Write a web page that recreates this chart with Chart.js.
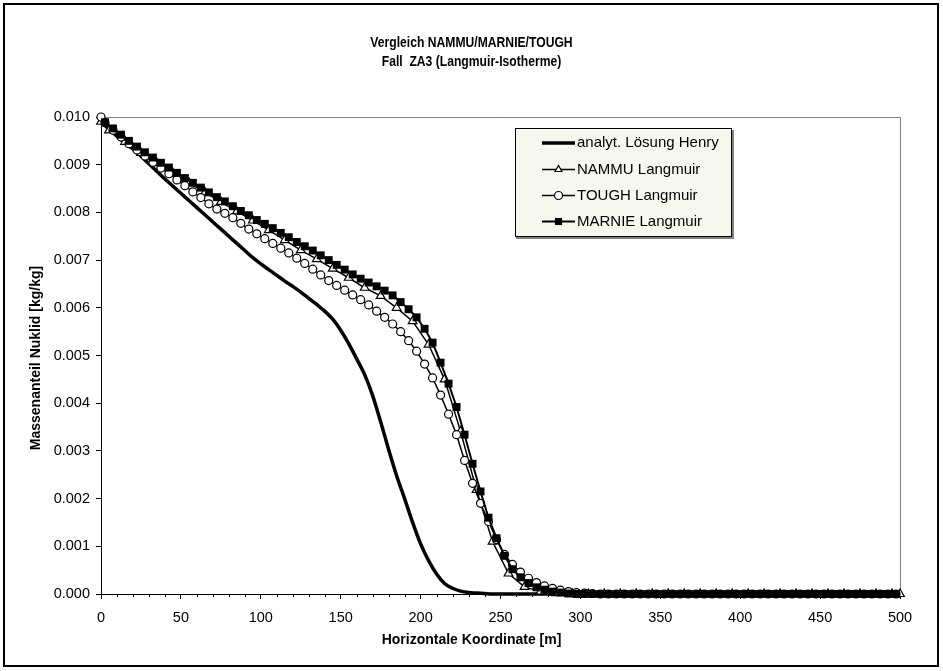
<!DOCTYPE html>
<html><head><meta charset="utf-8">
<script src="https://cdn.jsdelivr.net/npm/chart.js@4/dist/chart.umd.min.js"></script>
<style>html,body{margin:0;padding:0;background:#fff}#wrap{width:943px;height:671px;position:relative}</style>
</head><body><div id="wrap"><canvas id="c" width="943" height="671"></canvas></div>
<script>
const titleLines = ["Vergleich NAMMU/MARNIE/TOUGH", "Fall  ZA3 (Langmuir-Isotherme)"];
const xAxisTitle = "Horizontale Koordinate [m]";
const yAxisTitle = "Massenanteil Nuklid [kg/kg]";
const seriesNames = ["analyt. Lösung Henry", "NAMMU Langmuir", "TOUGH Langmuir", "MARNIE Langmuir"];

const henryX = [0,5,10,15,20,25,30,35,40,45,50,55,60,65,70,75,80,85,90,95,100,105,110,115,120,125,130,135,140,145,150,155,160,165,170,175,180,185,190,195,200,205,210,215,220,225,230,235,240,245,250,255,260,265,270,275,280,285,290,295,300,305,310,315,320,325,330,335,340,345,350,355,360,365,370,375,380,385,390,395,400,405,410,415,420,425,430,435,440,445,450,455,460,465,470,475,480,485,490,495,500];
const henryY = [0.00990,0.00975,0.00960,0.00946,0.00933,0.00918,0.00902,0.00886,0.00870,0.00855,0.00840,0.00825,0.00810,0.00795,0.00780,0.00765,0.00750,0.00735,0.00720,0.00705,0.00692,0.00680,0.00668,0.00656,0.00645,0.00633,0.00620,0.00607,0.00593,0.00576,0.00553,0.00525,0.00493,0.00460,0.00416,0.00361,0.00303,0.00248,0.00200,0.00150,0.00105,0.00070,0.00042,0.00022,0.00012,0.00006,0.00003,0.00002,0.00001,0,0,0,0,0,0,0,0,0,0,0,0,0,0,0,0,0,0,0,0,0,0,0,0,0,0,0,0,0,0,0,0,0,0,0,0,0,0,0,0,0,0,0,0,0,0,0,0,0,0,0,0];

const nammuX = [0,5,15,25,35,45,55,65,75,85,95,105,115,125,135,145,155,165,175,185,195,205,215,225,235,245,255,265,275,285,295,305,315,325,335,345,355,365,375,385,395,405,415,425,435,445,455,465,475,485,495,500];
const nammuY = [0.00990,0.00972,0.00948,0.00925,0.00903,0.00882,0.00862,0.00842,0.00822,0.00802,0.00783,0.00763,0.00742,0.00721,0.00702,0.00682,0.00663,0.00642,0.00625,0.00600,0.00572,0.00523,0.00450,0.00341,0.00218,0.00110,0.00043,0.00015,0.00005,0.00002,0,0,0,0,0,0,0,0,0,0,0,0,0,0,0,0,0,0,0,0,0,0];

const toughX = [0,2.5,7.5,12.5,17.5,22.5,27.5,32.5,37.5,42.5,47.5,52.5,57.5,62.5,67.5,72.5,77.5,82.5,87.5,92.5,97.5,102.5,107.5,112.5,117.5,122.5,127.5,132.5,137.5,142.5,147.5,152.5,157.5,162.5,167.5,172.5,177.5,182.5,187.5,192.5,197.5,202.5,207.5,212.5,217.5,222.5,227.5,232.5,237.5,242.5,247.5,252.5,257.5,262.5,267.5,272.5,277.5,282.5,287.5,292.5,297.5,302.5,307.5,312.5,317.5,322.5,327.5,332.5,337.5,342.5,347.5,352.5,357.5,362.5,367.5,372.5,377.5,382.5,387.5,392.5,397.5,402.5,407.5,412.5,417.5,422.5,427.5,432.5,437.5,442.5,447.5,452.5,457.5,462.5,467.5,472.5,477.5,482.5,487.5,492.5,497.5];
const toughY = [0.01000,0.00988,0.00972,0.00958,0.00944,0.00931,0.00918,0.00905,0.00893,0.00881,0.00868,0.00856,0.00843,0.00831,0.00818,0.00807,0.00798,0.00789,0.00777,0.00765,0.00755,0.00745,0.00735,0.00725,0.00715,0.00704,0.00693,0.00681,0.00669,0.00657,0.00647,0.00637,0.00627,0.00617,0.00606,0.00593,0.00580,0.00566,0.00550,0.00531,0.00509,0.00482,0.00453,0.00417,0.00377,0.00334,0.00280,0.00232,0.00190,0.00152,0.00114,0.00083,0.00062,0.00046,0.00033,0.00024,0.00017,0.00012,0.00008,0.00005,0.00003,0.00002,0.00001,0,0,0,0,0,0,0,0,0,0,0,0,0,0,0,0,0,0,0,0,0,0,0,0,0,0,0,0,0,0,0,0,0,0,0,0,0,0];

const marnieX = [2.5,7.5,12.5,17.5,22.5,27.5,32.5,37.5,42.5,47.5,52.5,57.5,62.5,67.5,72.5,77.5,82.5,87.5,92.5,97.5,102.5,107.5,112.5,117.5,122.5,127.5,132.5,137.5,142.5,147.5,152.5,157.5,162.5,167.5,172.5,177.5,182.5,187.5,192.5,197.5,202.5,207.5,212.5,217.5,222.5,227.5,232.5,237.5,242.5,247.5,252.5,257.5,262.5,267.5,272.5,277.5,282.5,287.5,292.5,297.5,302.5,307.5,312.5,317.5,322.5,327.5,332.5,337.5,342.5,347.5,352.5,357.5,362.5,367.5,372.5,377.5,382.5,387.5,392.5,397.5,402.5,407.5,412.5,417.5,422.5,427.5,432.5,437.5,442.5,447.5,452.5,457.5,462.5,467.5,472.5,477.5,482.5,487.5,492.5,497.5];
const marnieY = [0.00989,0.00976,0.00963,0.00950,0.00938,0.00926,0.00915,0.00904,0.00894,0.00883,0.00872,0.00862,0.00852,0.00842,0.00832,0.00823,0.00813,0.00803,0.00794,0.00784,0.00776,0.00767,0.00757,0.00748,0.00738,0.00729,0.00720,0.00710,0.00700,0.00690,0.00680,0.00670,0.00661,0.00653,0.00645,0.00636,0.00626,0.00612,0.00597,0.00580,0.00556,0.00527,0.00485,0.00441,0.00392,0.00334,0.00273,0.00215,0.00160,0.00117,0.00080,0.00052,0.00035,0.00023,0.00014,0.00009,0.00005,0.00003,0.00001,0,0,0,0,0,0,0,0,0,0,0,0,0,0,0,0,0,0,0,0,0,0,0,0,0,0,0,0,0,0,0,0,0,0,0,0,0,0,0,0,0];

const xTickValues = [0,50,100,150,200,250,300,350,400,450,500];
const yTickStep = 0.001;

function pts(xs, ys) { return xs.map((x, i) => ({x: x, y: ys[i]})); }

const FONT = "'Liberation Sans', Arial, sans-serif";

const styles = [
  {lw: 3.5, ps: false},
  {lw: 1.5, ps: 'triangle'},
  {lw: 1.5, ps: 'circle'},
  {lw: 2, ps: 'rect'}
];

function drawMarker(ctx, type, x, y, r) {
  if (!type) return;
  ctx.save();
  ctx.lineWidth = 1.2;
  ctx.strokeStyle = '#000';
  ctx.beginPath();
  if (type === 'circle') {
    ctx.arc(x, y, r, 0, Math.PI * 2);
    ctx.fillStyle = '#fff'; ctx.fill(); ctx.stroke();
  } else if (type === 'triangle') {
    ctx.moveTo(x, y - r);
    ctx.lineTo(x + r * 0.866, y + r * 0.5);
    ctx.lineTo(x - r * 0.866, y + r * 0.5);
    ctx.closePath();
    ctx.fillStyle = '#fff'; ctx.fill(); ctx.stroke();
  } else if (type === 'rect') {
    const s = r * Math.SQRT1_2;
    ctx.rect(x - s, y - s, 2 * s, 2 * s);
    ctx.fillStyle = '#000'; ctx.fill();
  }
  ctx.restore();
}

const decor = {
  id: 'decor',
  beforeDraw(chart) {
    const ctx = chart.ctx;
    ctx.save();
    ctx.fillStyle = '#fff';
    ctx.fillRect(0, 0, chart.width, chart.height);
    ctx.restore();
  },
  beforeDatasetsDraw(chart) {
    const {ctx, chartArea: a} = chart;
    ctx.save();
    ctx.strokeStyle = '#808080';
    ctx.lineWidth = 1;
    ctx.beginPath();
    ctx.moveTo(a.left, a.top + 0.5);
    ctx.lineTo(a.right + 0.5, a.top + 0.5);
    ctx.lineTo(a.right + 0.5, a.bottom);
    ctx.stroke();
    const xs = chart.scales.x;
    ctx.strokeStyle = '#000';
    ctx.beginPath();
    for (let v = 0; v <= 500; v += 10) {
      if (v % 50 === 0) continue;
      const px = Math.round(xs.getPixelForValue(v)) + 0.5;
      ctx.moveTo(px, a.bottom);
      ctx.lineTo(px, a.bottom + 3);
    }
    ctx.stroke();
    ctx.restore();
  },
  afterDraw(chart) {
    const ctx = chart.ctx;
    ctx.save();
    ctx.strokeStyle = '#000';
    ctx.lineWidth = 2;
    ctx.strokeRect(4, 4, 934, 662);
    ctx.fillStyle = '#000';
    ctx.textAlign = 'center';
    ctx.textBaseline = 'middle';
    ctx.font = "bold 15px " + FONT;
    ctx.save();
    ctx.translate(471.5, 0);
    ctx.scale(0.81, 1);
    ctx.fillText(titleLines[0], 0, 43);
    ctx.fillText(titleLines[1], 0, 62);
    ctx.restore();
    ctx.font = "bold 14px " + FONT;
    ctx.fillText(xAxisTitle, 471.5, 640);
    ctx.save();
    ctx.translate(36, 358);
    ctx.rotate(-Math.PI / 2);
    ctx.fillText(yAxisTitle, 0, 0);
    ctx.restore();
    const L = {x: 515, y: 128, w: 216, h: 108};
    ctx.fillStyle = '#F7F7EE';
    ctx.fillRect(L.x, L.y, L.w, L.h);
    ctx.strokeStyle = '#000';
    ctx.lineWidth = 1;
    ctx.strokeRect(L.x + 0.5, L.y + 0.5, L.w, L.h);
    ctx.strokeStyle = '#808080';
    ctx.lineWidth = 2;
    ctx.beginPath();
    ctx.moveTo(L.x + 1, L.y + L.h + 2);
    ctx.lineTo(L.x + L.w + 2, L.y + L.h + 2);
    ctx.lineTo(L.x + L.w + 2, L.y + 2);
    ctx.stroke();
    const rows = [143, 169.5, 195.5, 221.5];
    chart.data.datasets.forEach((ds, i) => {
      const st = styles[i];
      const y = rows[i];
      ctx.strokeStyle = '#000';
      ctx.lineWidth = st.lw;
      ctx.beginPath();
      ctx.moveTo(542, y);
      ctx.lineTo(575, y);
      ctx.stroke();
      drawMarker(ctx, st.ps, 558.5, y, i === 3 ? 5 : 4);
      ctx.fillStyle = '#000';
      ctx.font = "15px " + FONT;
      ctx.textAlign = 'left';
      ctx.textBaseline = 'middle';
      ctx.fillText(ds.label, 577, y);
    });
    ctx.restore();
  }
};

const datasets = [
  {label: seriesNames[0], data: pts(henryX, henryY), borderColor: '#000', borderWidth: 3.5, pointRadius: 0, order: 3, cubicInterpolationMode: 'monotone'},
  {label: seriesNames[1], data: pts(nammuX, nammuY), borderColor: '#000', borderWidth: 1.5, pointStyle: 'triangle', pointRadius: 5, pointBackgroundColor: '#fff', pointBorderColor: '#000', pointBorderWidth: 1.2, order: 2},
  {label: seriesNames[2], data: pts(toughX, toughY), borderColor: '#000', borderWidth: 1.5, pointStyle: 'circle', pointRadius: 4, pointBackgroundColor: '#fff', pointBorderColor: '#000', pointBorderWidth: 1.2, order: 1},
  {label: seriesNames[3], data: pts(marnieX, marnieY), borderColor: '#000', borderWidth: 2, pointStyle: 'rect', pointRadius: 5.6, pointBackgroundColor: '#000', pointBorderColor: '#000', pointBorderWidth: 0, order: 0}
];
datasets.forEach(d => { d.fill = false; d.tension = 0; d.clip = false; });

new Chart(document.getElementById('c'), {
  type: 'line',
  data: {datasets: datasets},
  plugins: [decor],
  options: {
    responsive: false,
    animation: false,
    events: [],
    layout: {padding: {left: 0, right: 43, top: 117, bottom: 0}},
    plugins: {legend: {display: false}, title: {display: false}, tooltip: {enabled: false}},
    scales: {
      x: {
        type: 'linear', min: 0, max: 500,
        afterFit(s) { s.height = 77; },
        afterBuildTicks(s) { s.ticks = xTickValues.map(v => ({value: v})); },
        ticks: {color: '#000', font: {family: FONT, size: 14.5}, padding: 10, maxRotation: 0, autoSkip: false},
        grid: {display: true, drawOnChartArea: false, drawTicks: true, tickLength: 5, color: '#000'},
        border: {display: true, color: '#000', width: 1},
        title: {display: false}
      },
      y: {
        type: 'linear', min: 0, max: 0.010,
        afterFit(s) { s.width = 101; },
        ticks: {stepSize: yTickStep, color: '#000', font: {family: FONT, size: 14.5}, padding: 6, callback: v => Number(v).toFixed(3)},
        grid: {display: true, drawOnChartArea: false, drawTicks: true, tickLength: 5, color: '#000'},
        border: {display: true, color: '#000', width: 1},
        title: {display: false}
      }
    }
  }
});
</script></body></html>
